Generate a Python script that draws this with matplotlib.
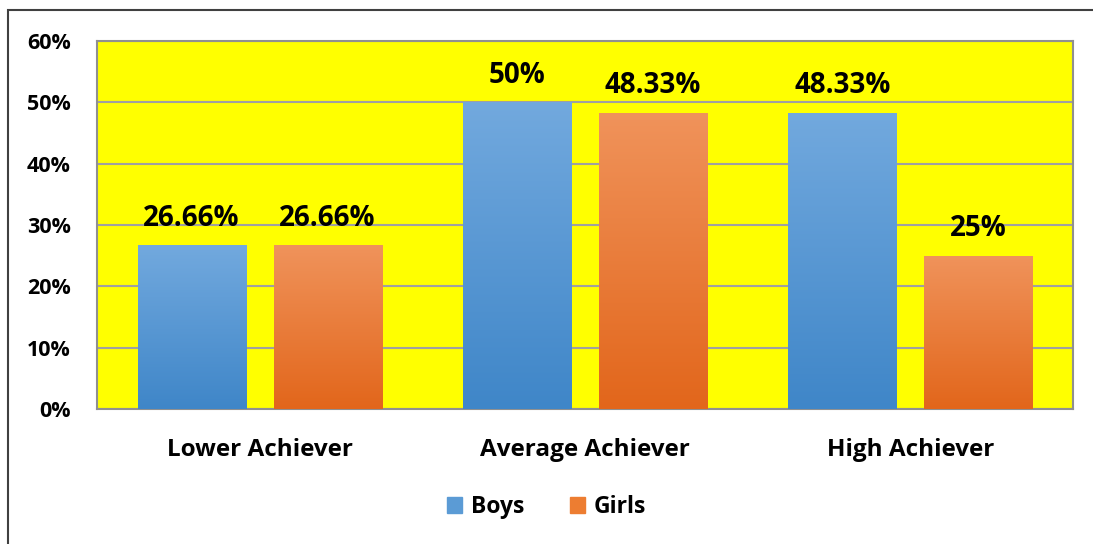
import numpy as np
import matplotlib.pyplot as plt
import matplotlib.patches as mpatches
from matplotlib.colors import LinearSegmentedColormap

categories = ['Lower Achiever', 'Average Achiever', 'High Achiever']
boys = [26.66, 50, 48.33]
girls = [26.66, 48.33, 25]
boys_labels = ['26.66%', '50%', '48.33%']
girls_labels = ['26.66%', '48.33%', '25%']
yticks = [0, 10, 20, 30, 40, 50, 60]

plt.rcParams['font.family'] = ['Open Sans', 'DejaVu Sans']
plt.rcParams['font.weight'] = 'bold'

fig = plt.figure(figsize=(10.93, 5.44), dpi=100)
ax = fig.add_axes([0.0887, 0.2482, 0.893, 0.6765])
ax.set_facecolor('#FFFF00')

blue_cmap = LinearSegmentedColormap.from_list('b', ['#3F86C8', '#72A9DE'])
orange_cmap = LinearSegmentedColormap.from_list('o', ['#E2661B', '#F0935B'])

x = np.arange(len(categories))
w = 0.332
off = 0.209


def gradient_bars(xs, vals, cmap, label):
    bars = ax.bar(xs, vals, w, color=cmap(0.5), label=label, zorder=3,
                  linewidth=0)
    grad = np.linspace(0, 1, 256).reshape(-1, 1)
    for b in bars:
        x0, y0 = b.get_x(), b.get_y()
        bw, bh = b.get_width(), b.get_height()
        im = ax.imshow(grad, cmap=cmap, origin='lower', aspect='auto',
                       extent=[x0, x0 + bw, y0, y0 + bh], zorder=4)
        im.set_clip_path(b)
    return bars


b1 = gradient_bars(x - off, boys, blue_cmap, 'Boys')
b2 = gradient_bars(x + off, girls, orange_cmap, 'Girls')

for bars, labels in [(b1, boys_labels), (b2, girls_labels)]:
    for b, lab in zip(bars, labels):
        ax.annotate(lab, (b.get_x() + b.get_width() / 2, b.get_height()),
                    xytext=(0, 9), textcoords='offset points',
                    ha='center', va='bottom', fontsize=20, fontweight='bold',
                    zorder=5)

ax.set_xlim(-0.5, 2.5)
ax.set_ylim(0, 60)
ax.set_yticks(yticks)
ax.set_yticklabels([f'{t}%' for t in yticks], fontsize=15.5, fontweight='bold')
ax.set_xticks(x)
ax.set_xticklabels(categories, fontsize=17.5, fontweight='bold')
ax.tick_params(axis='x', length=0, pad=21)
ax.tick_params(axis='y', length=0, pad=19)
ax.yaxis.grid(True, color='#A0A0A0', linewidth=1.5, zorder=1)
ax.set_axisbelow(True)
for s in ax.spines.values():
    s.set_color('#909090')
    s.set_linewidth(1.5)

handles = [mpatches.Patch(color='#5B9BD5', label='Boys'),
           mpatches.Patch(color='#ED7D31', label='Girls')]
fig.legend(handles=handles, loc='center', bbox_to_anchor=(0.5, 0.068),
           ncol=2, frameon=False, handlelength=0.65,
           handleheight=0.65, columnspacing=2.0, handletextpad=0.4,
           prop={'family': ['Open Sans'], 'weight': 'bold', 'size': 16.5})

border = mpatches.Rectangle((8 / 1093, -0.1), 1.2, 0.1 + 1 - 10 / 544,
                            transform=fig.transFigure, fill=False,
                            edgecolor='#404040', linewidth=1.5)
fig.patches.append(border)

fig.savefig('out.png', dpi=100)
